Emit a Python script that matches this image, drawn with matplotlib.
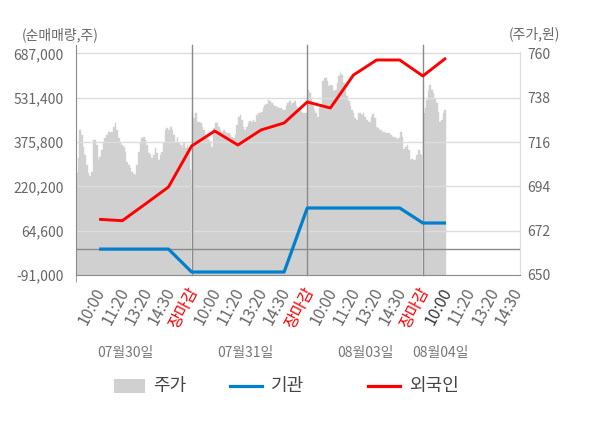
import numpy as np
import matplotlib
matplotlib.use("Agg")
import matplotlib.pyplot as plt
from matplotlib.patches import Rectangle
from matplotlib.lines import Line2D
from matplotlib.transforms import ScaledTranslation

plt.rcParams['font.family'] = ['Noto Sans CJK KR', 'DejaVu Sans']

# ---------------- data ----------------
tick_labels = ["10:00", "11:20", "13:20", "14:30", "장마감",
               "10:00", "11:20", "13:20", "14:30", "장마감",
               "10:00", "11:20", "13:20", "14:30", "장마감",
               "10:00", "11:20", "13:20", "14:30"]
date_labels = ["07월30일", "07월31일", "08월03일", "08월04일"]
date_label_pos = [2.12, 7.31, 12.5, 15.74]

foreign = [104600, 99700, 158400, 218100, 362100, 414800, 365600, 418300,
           443000, 516600, 495600, 611500, 664200, 664200, 608000, 671200]
inst = [0, 0, 0, 0, -80500, -80500, -80500, -80500, -80500,
        144300, 144300, 144300, 144300, 144300, 91600, 91600]

price_day1 = [700.5, 708, 722, 719.5, 713.5, 709.5, 704.5, 700.5, 699, 701,
              717, 717, 714.5, 707, 708.5, 712, 715.5, 718, 719.5, 721,
              720.5, 721, 723.5, 725.5, 722, 718, 716, 714.5, 713.5, 711,
              706, 704.5, 703, 701, 700, 699.5, 704.5, 711, 715.5, 718,
              718.5, 717, 714.5, 710.5, 709.5, 708, 709.5, 713, 710.5, 707,
              709.5, 711, 715.5, 722, 723, 722, 723.5, 722, 719.5, 716,
              718, 715.5, 714.5, 713, 715.5, 713, 714.5, 713, 702]
price_day2 = [730.3, 727.8, 730.3, 726, 726, 725.3, 723.7, 722, 719.5, 717.8,
              717, 716, 713.7, 722.8, 725.3, 725.7, 723.7, 722, 721, 722,
              721, 720.7, 720.3, 719.5, 718.7, 717.8, 719.5, 724.5, 728.7, 729.5,
              727, 723.7, 722, 723.7, 725.7, 726.7, 726.2, 727, 726.2, 729.5,
              730.3, 730.7, 731.2, 732.8, 734.5, 735, 737, 736.2, 735.3, 734.5,
              733.7, 733.3, 732.8, 732.8, 732.8, 732, 732, 733.7, 735.3, 736.2,
              734.5, 735.3, 736.2, 733.7, 732.8, 732, 731.2, 730.3, 730.3, 730.3]
price_day3 = [742, 740.3, 737.8, 733.7, 732, 730.3, 728.7, 732.8, 734.5, 746.2,
              747.8, 747.8, 746.2, 743.7, 744.5, 743.7, 741.2, 742, 745.3, 748.7,
              750.3, 749.5, 745.3, 742, 738.7, 736.2, 733.7, 732, 730.3, 727.8,
              727, 730.7, 730.7, 729.5, 730.7, 728.7, 727, 726.2, 726.2, 728.7,
              730, 727.8, 723.7, 722.8, 722, 722, 721.2, 721.2, 720.7, 720.3,
              720.3, 719.5, 718.7, 718.7, 717.8, 717, 717.8, 721.2, 718.7, 712.8,
              713.7, 714.5, 712, 707, 707.8, 707, 707, 709.5, 712, 710.3, 709.5]
price_day4 = [730.3, 732.8, 737, 741.2, 744.5, 742, 740.3, 737.8, 735.3, 731.2,
              726.2, 727, 730.3, 732]

left_ticks = [-91000, 64600, 220200, 375800, 531400, 687000]
right_ticks = [650, 672, 694, 716, 738, 760]

# ---------------- figure ----------------
fig = plt.figure(figsize=(6.0, 4.28), dpi=100)
ax = fig.add_axes([76/600, 153/428, 444/600, 223.3/428])
ax2 = ax.twinx()
ax.set_zorder(ax2.get_zorder() + 1)
ax.patch.set_visible(False)
ax2.set_facecolor('#f5f5f5')

# price area
days = [price_day1, price_day2, price_day3, price_day4]
spans = [5, 5, 5, 1]
for d, (vals, span) in enumerate(zip(days, spans)):
    n = len(vals)
    xs = 5 * d + span * (np.arange(n) + 0.5) / n
    xs = np.concatenate([[5 * d + 0.02], xs, [5 * d + span - 0.02]])
    ys = np.concatenate([[vals[0]], vals, [vals[-1]]])
    ax2.fill_between(xs, 650, ys, step='mid', color='#d0d0d0', lw=0.3,
                     edgecolor='#d0d0d0')

ax2.set_ylim(650, 760.9)
ax.set_ylim(-91000, 693300)
ax.set_xlim(0, 19.2)

# grid lines
for t in left_ticks[1:]:
    ax.axhline(t, color='#dddddd', lw=1, zorder=1)
ax.axhline(0, color='#8a8a8a', lw=1, zorder=2)

# vertical day separators
for xv in [5, 10, 15]:
    ax.axvline(xv, ymin=0, ymax=1.03, color='#8a8a8a', lw=1, clip_on=False, zorder=2)

# lines
pts = np.arange(1, len(foreign) + 1)
ax.plot(pts, inst, color='#0080cc', lw=2.3, zorder=4, solid_capstyle='butt')
ax.plot(pts, foreign, color='#ff0000', lw=2.1, zorder=5, solid_capstyle='butt')

# spines
for s in ['top']:
    ax.spines[s].set_visible(False)
    ax2.spines[s].set_visible(False)
ax.spines['left'].set_color('#8a8a8a')
ax.spines['left'].set_bounds(-91000, 693300 + 0.03 * 784300)
ax.spines['bottom'].set_color('#8a8a8a')
ax.spines['right'].set_color('#dddddd')
ax2.spines['left'].set_visible(False)
ax2.spines['bottom'].set_visible(False)
ax2.spines['right'].set_color('#dddddd')
ax.spines['left'].set_clip_on(False)

# y ticks
ax.set_yticks(left_ticks)
ax.set_yticklabels([f"{v:,}" for v in left_ticks])
ax.tick_params(axis='y', length=0, pad=9, labelsize=10, labelcolor='#666666')
ax2.set_yticks(right_ticks)
ax2.set_yticklabels([str(v) for v in right_ticks])
ax2.tick_params(axis='y', length=0, pad=5, labelsize=10, labelcolor='#666666')

# x ticks
xt = np.arange(1, len(tick_labels) + 1)
ax.set_xticks(xt)
ax.set_xticklabels(tick_labels, rotation=62, ha='right', rotation_mode='anchor')
ax.tick_params(axis='x', length=0, pad=7, labelsize=11.5)
shift = ScaledTranslation(-5/100, 0, fig.dpi_scale_trans)
for i, lbl in enumerate(ax.get_xticklabels()):
    lbl.set_transform(lbl.get_transform() + shift)
    if tick_labels[i] == "장마감":
        lbl.set_color('#ff0000')
    elif i == 15:
        lbl.set_color('#333333')
    else:
        lbl.set_color('#666666')
ax.set_xticks([0, 5, 10, 15], minor=True)
ax.tick_params(axis='x', which='minor', length=5, color='#8a8a8a', direction='out')

# date labels
for pos, txt in zip(date_label_pos, date_labels):
    ax.text(pos, -0.35, txt, transform=ax.get_xaxis_transform(), ha='center',
            va='center', fontsize=10, color='#777777')

# axis titles
fig.text(22/600, 1 - 35/428, "(순매매량,주)", ha='left', va='center', fontsize=10, color='#666666')
fig.text(509/600, 1 - 34/428, "(주가,원)", ha='left', va='center', fontsize=10, color='#666666')

# legend
ly = 1 - 386/428
fig.patches.append(Rectangle((114/600, 1 - 393/428), 31/600, 14/428,
                             transform=fig.transFigure, color='#d0d0d0', lw=0))
fig.text(153/600, ly, "주가", ha='left', va='center', fontsize=13, color='#444444')
fig.lines.append(Line2D([230/600, 262/600], [ly, ly], transform=fig.transFigure,
                        color='#0080cc', lw=2.3))
fig.text(271/600, ly, "기관", ha='left', va='center', fontsize=13, color='#444444')
fig.lines.append(Line2D([368/600, 400/600], [ly, ly], transform=fig.transFigure,
                        color='#ff0000', lw=2.3))
fig.text(409/600, ly, "외국인", ha='left', va='center', fontsize=13, color='#444444')

fig.savefig("out.png", dpi=100)
